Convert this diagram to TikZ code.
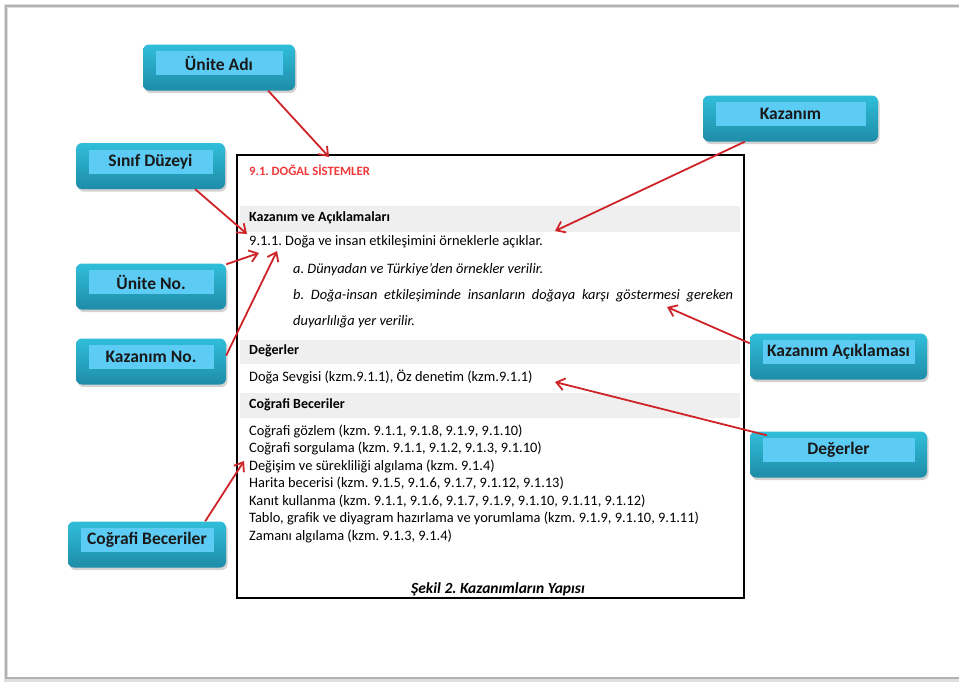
\documentclass[tikz,border=0pt]{standalone}
\usepackage{fontspec}
\setmainfont{Carlito}
\usetikzlibrary{arrows.meta,shadows,calc}

\definecolor{boxtop}{RGB}{48,190,218}
\definecolor{boxbot}{RGB}{30,140,168}
\definecolor{boxin}{RGB}{92,204,245}
\definecolor{arrowred}{RGB}{206,36,40}
\definecolor{titlered}{RGB}{240,56,56}
\definecolor{bandgray}{RGB}{239,239,239}

\tikzset{
  callout/.style={rounded corners=6pt, top color=boxtop, bottom color=boxbot, draw=none,
    minimum height=46pt, inner sep=0pt,
    drop shadow={opacity=0.35, shadow xshift=1.5pt, shadow yshift=-2.5pt}},
  calloutin/.style={fill=boxin, minimum height=24pt, inner sep=0pt,
    font=\bfseries\fontsize{17.5}{19}\selectfont, text=black!90},
  redarrow/.style={draw=arrowred, line width=1.8pt, -{Straight Barb[length=8pt,width=12pt]}},
  bodytext/.style={anchor=west, inner sep=0pt, font=\fontsize{14.4}{16}\selectfont},
  bandtext/.style={anchor=west, inner sep=0pt, font=\bfseries\fontsize{14}{16}\selectfont},
  band/.style={fill=bandgray, draw=none}
}

\begin{document}
\frenchspacing
\begin{tikzpicture}[x=1pt,y=-1pt]
            \useasboundingbox (0,0) rectangle (959,686);
            \clip (0,0) rectangle (959,686);
            \fill[white] (0,0) rectangle (959,686);
            \draw[gray!25, line width=4pt] (6,6) rectangle (990,680);
            \draw[gray!60, line width=1.2pt] (6,6) rectangle (990,678);

            \fill[band] (240,206) rectangle (740,232);
            \fill[band] (240,340) rectangle (740,364);
            \fill[band] (240,393) rectangle (740,418);
            \draw[line width=1.6pt] (237,155) rectangle (744,598);

            \node[bodytext, font=\bfseries\fontsize{12.7}{14}\selectfont, text=titlered] (unitename) at (249,170) {9.1. DOĞAL SİSTEMLER};
            \node[bandtext] (kazhead) at (249,218) {Kazanım ve Açıklamaları};
            \node[bodytext] (kazline) at (249,242) {9.1.1. Doğa ve insan etkileşimini örneklerle açıklar.};
            \node[bodytext, font=\itshape\fontsize{14.4}{16}\selectfont] (expa) at (293,270) {a. Dünyadan ve Türkiye'den örnekler verilir.};
            \node[bodytext, font=\itshape\fontsize{14.4}{16}\selectfont] (expb) at (293,296)
                {\makebox[440pt][s]{b. Doğa-insan etkileşiminde insanların doğaya karşı göstermesi gereken}};
            \node[bodytext, font=\itshape\fontsize{14.4}{16}\selectfont] (expc) at (293,322) {duyarlılığa yer verilir.};

            \node[bandtext] (deghead) at (249,351) {Değerler};
            \node[bodytext] (degline) at (249,377) {Doğa Sevgisi (kzm.9.1.1), Öz denetim (kzm.9.1.1)};

            \node[bandtext] (coghead) at (249,405) {Coğrafi Beceriler};
            \node[bodytext] (cog1) at (249,431) {Coğrafi gözlem (kzm. 9.1.1, 9.1.8, 9.1.9, 9.1.10)};
            \node[bodytext] (cog2) at (249,448.5) {Coğrafi sorgulama (kzm. 9.1.1, 9.1.2, 9.1.3, 9.1.10)};
            \node[bodytext] (cog3) at (249,466) {Değişim ve sürekliliği algılama (kzm. 9.1.4)};
            \node[bodytext] (cog4) at (249,483.5) {Harita becerisi (kzm. 9.1.5, 9.1.6, 9.1.7, 9.1.12, 9.1.13)};
            \node[bodytext] (cog5) at (249,501) {Kanıt kullanma (kzm. 9.1.1, 9.1.6, 9.1.7, 9.1.9, 9.1.10, 9.1.11, 9.1.12)};
            \node[bodytext] (cog6) at (249,518.5) {Tablo, grafik ve diyagram hazırlama ve yorumlama (kzm. 9.1.9, 9.1.10, 9.1.11)};
            \node[bodytext] (cog7) at (249,536) {Zamanı algılama (kzm. 9.1.3, 9.1.4)};

            \node[inner sep=0pt, font=\bfseries\itshape\fontsize{15.5}{17}\selectfont] (caption) at (498,589) {Şekil 2. Kazanımların Yapısı};

            \node[callout, minimum width=152pt] (uniteadi) at (219,67.5) {};
            \node[calloutin, minimum width=127pt] at ([yshift=4.5pt]uniteadi.center) {Ünite Adı};
            \node[callout, minimum width=149pt] (sinif) at (150.5,166) {};
            \node[calloutin, minimum width=124pt] at ([yshift=4.5pt]sinif.center) {Sınıf Düzeyi};
            \node[callout, minimum width=150pt] (uniteno) at (151,286.5) {};
            \node[calloutin, minimum width=125pt] at ([yshift=4.5pt]uniteno.center) {Ünite No.};
            \node[callout, minimum width=150pt] (kazno) at (151,361.5) {};
            \node[calloutin, minimum width=125pt] at ([yshift=4.5pt]kazno.center) {Kazanım No.};
            \node[callout, minimum width=158pt] (cografi) at (147,544.5) {};
            \node[calloutin, minimum width=133pt] at ([yshift=4.5pt]cografi.center) {Coğrafi Beceriler};
            \node[callout, minimum width=175pt] (kazanim) at (790.5,118.5) {};
            \node[calloutin, minimum width=150pt] at ([yshift=4.5pt]kazanim.center) {Kazanım};
            \node[callout, minimum width=177pt] (kazack) at (838.5,356.5) {};
            \node[calloutin, minimum width=152pt] at ([yshift=4.5pt]kazack.center) {Kazanım Açıklaması};
            \node[callout, minimum width=177pt] (degerler) at (838.5,454.5) {};
            \node[calloutin, minimum width=152pt] at ([yshift=4.5pt]degerler.center) {Değerler};

            \coordinate (tUA) at (329,157);
            \coordinate (tSD) at (247,234);
            \coordinate (tUN) at (259,253);
            \coordinate (tKN) at (277,251);
            \coordinate (tK) at (555,231);
            \coordinate (tKA) at (667,307);
            \coordinate (tD) at (555,382);
            \coordinate (tCB) at (244,461);

            \draw[redarrow] ([xshift=-27pt]uniteadi.south east) -- (tUA);
            \draw[redarrow] ([xshift=-30pt]sinif.south east) -- (tSD);
            \draw[redarrow] ([yshift=-1pt]uniteno.north east) -- (tUN);
            \draw[redarrow] ([yshift=6pt]kazno.east) -- (tKN);
            \draw[redarrow] ([xshift=-21pt]cografi.north east) -- (tCB);
            \draw[redarrow] ([xshift=42pt]kazanim.south west) -- (tK);
            \draw[redarrow] ([yshift=-10pt]kazack.north west) -- (tKA);
            \draw[redarrow] ([xshift=17pt,yshift=-4pt]degerler.north west) -- (tD);
        \end{tikzpicture}
\end{document}
